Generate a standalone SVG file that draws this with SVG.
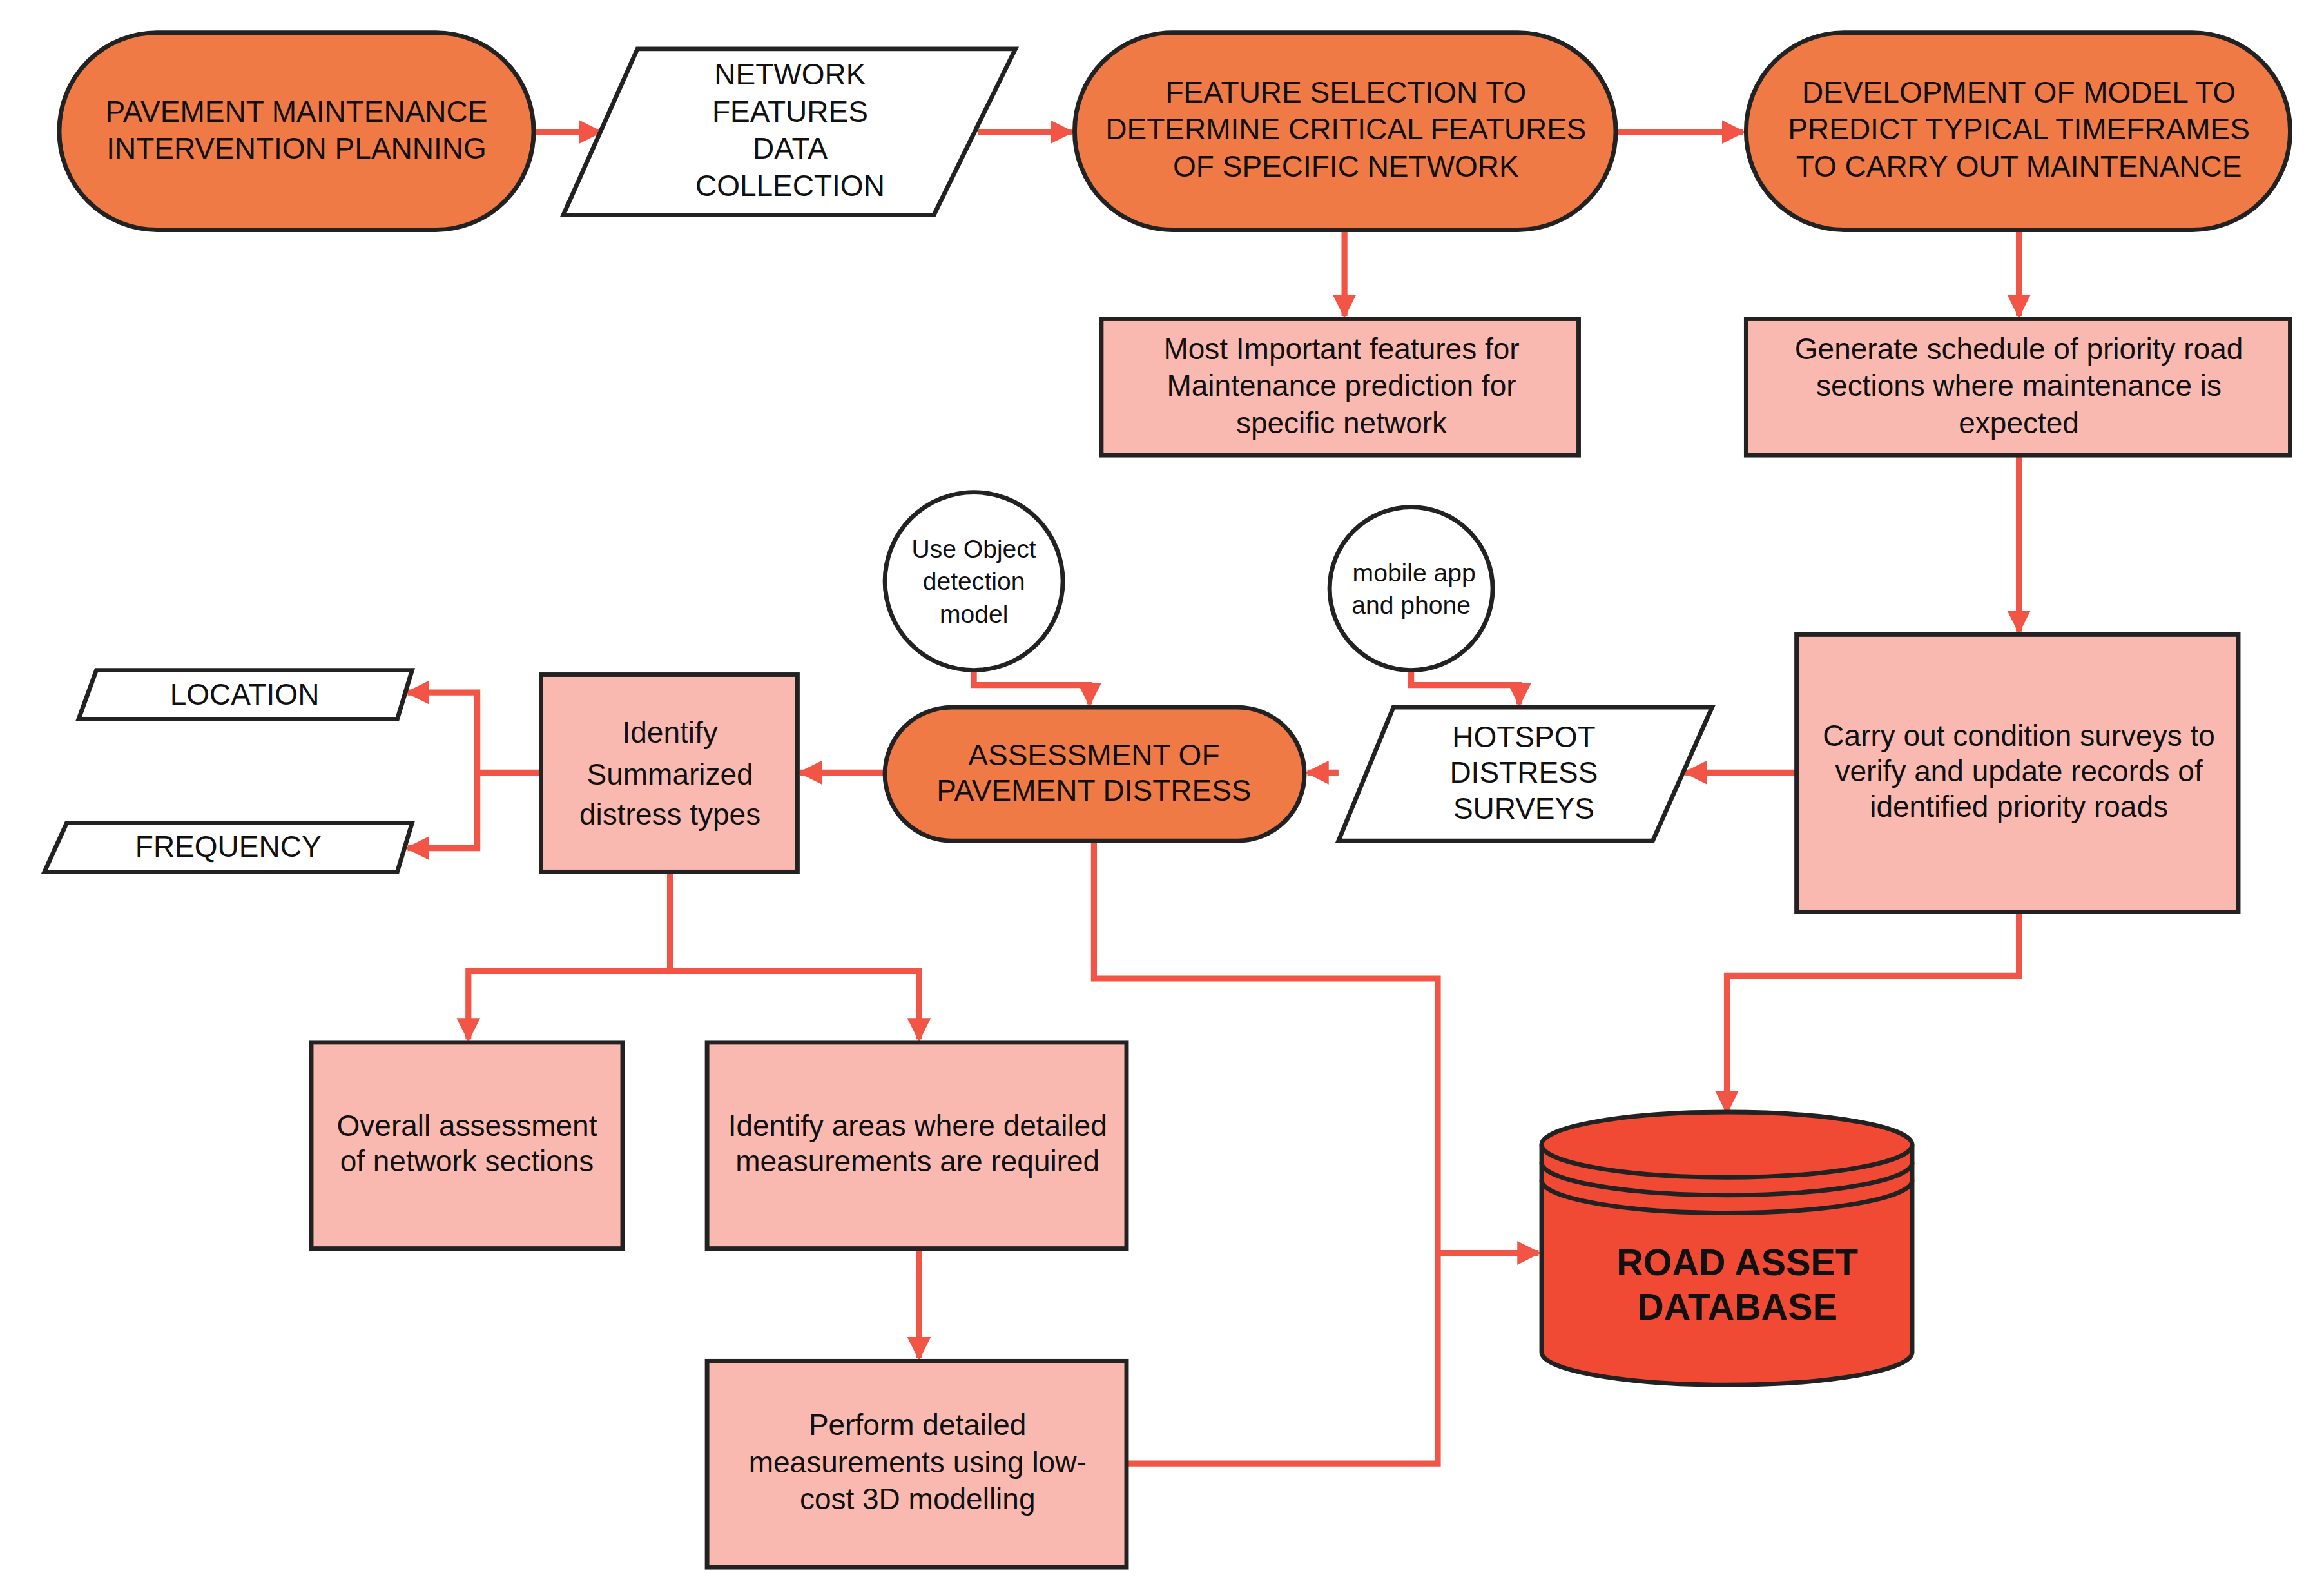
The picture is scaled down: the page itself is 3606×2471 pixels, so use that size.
<svg xmlns="http://www.w3.org/2000/svg" width="3606" height="2471" viewBox="0 0 3606 2471">
<style>
.o{fill:#F07A45;stroke:#222;stroke-width:3}
.w{fill:#fff;stroke:#222;stroke-width:3}
.p{fill:#F9B9B1;stroke:#222;stroke-width:3}
.c{fill:none;stroke:#F25545;stroke-width:4}
text{font-family:"Liberation Sans",Arial,sans-serif;font-size:20px;fill:#111;text-anchor:middle}
.s{font-size:17px}
.b{font-weight:bold;font-size:25px}
</style>
<defs><marker id="a" viewBox="0 0 10 10" refX="9" refY="5" markerWidth="4" markerHeight="4" orient="auto"><path d="M0,0L10,5L0,10z" fill="#F25545"/></marker></defs>
<rect width="3606" height="2471" fill="#fff"/>
<g transform="scale(2.3)">
<g id="connectors" marker-end="url(#a)">
<path class="c" d="M360,89H405"/>
<path class="c" d="M660,89H723"/>
<path class="c" d="M1090,89H1176"/>
<path class="c" d="M907,155V213"/>
<path class="c" d="M1362,155V213"/>
<path class="c" d="M1362,307V426"/>
<path class="c" d="M1212,521H1137"/>
<path class="c" d="M903,521H882"/>
<path class="c" d="M597,521H540"/>
<path class="c" d="M365,521H322V467H275"/>
<path class="c" d="M322,521V572H275"/>
<path class="c" d="M452,588V655H316V701"/>
<path class="c" d="M452,655H620V701"/>
<path class="c" d="M620,842V916"/>
<path class="c" d="M657,452V462H735V475"/>
<path class="c" d="M952,452V462H1025V475"/>
<path class="c" d="M738,567V660H970V845H1038"/>
<path class="c" d="M760,987H970V845" marker-end="none"/>
<path class="c" d="M1362,615V658H1165V750"/>
</g>
<g id="n1"><rect class="o" x="40" y="22" width="320" height="133" rx="66"/><text x="200" y="82">PAVEMENT MAINTENANCE</text><text x="200" y="107">INTERVENTION PLANNING</text></g>
<g id="n2"><path class="w" d="M430,33H685L630,145H380Z"/><text x="533" y="57">NETWORK</text><text x="533" y="82">FEATURES</text><text x="533" y="107">DATA</text><text x="533" y="132">COLLECTION</text></g>
<g id="n3"><rect class="o" x="725" y="22" width="365" height="133" rx="66"/><text x="908" y="69">FEATURE SELECTION TO</text><text x="908" y="94">DETERMINE CRITICAL FEATURES</text><text x="908" y="119">OF SPECIFIC NETWORK</text></g>
<g id="n4"><rect class="o" x="1178" y="22" width="367" height="133" rx="66"/><text x="1362" y="69">DEVELOPMENT OF MODEL TO</text><text x="1362" y="94">PREDICT TYPICAL TIMEFRAMES</text><text x="1362" y="119">TO CARRY OUT  MAINTENANCE</text></g>
<g id="n5"><rect class="p" x="743" y="215" width="322" height="92"/><text x="905" y="242">Most Important features for</text><text x="905" y="267">Maintenance prediction for</text><text x="905" y="292">specific network</text></g>
<g id="n6"><rect class="p" x="1178" y="215" width="367" height="92"/><text x="1362" y="242">Generate schedule of priority road</text><text x="1362" y="267">sections where maintenance is</text><text x="1362" y="292">expected</text></g>
<g id="n7"><circle class="w" cx="657" cy="392" r="60"/><text class="s" x="657" y="376">Use Object</text><text class="s" x="657" y="398">detection</text><text class="s" x="657" y="420">model</text></g>
<g id="n8"><circle class="w" cx="952" cy="397" r="55"/><text class="s" x="954" y="392">mobile app</text><text class="s" x="952" y="414">and phone</text></g>
<g id="n9"><rect class="o" x="597" y="477" width="283" height="90" rx="45"/><text x="738" y="516">ASSESSMENT OF</text><text x="738" y="540">PAVEMENT DISTRESS</text></g>
<g id="n10"><path class="w" d="M940,477H1155L1115,567H903Z"/><text x="1028" y="504">HOTSPOT</text><text x="1028" y="528">DISTRESS</text><text x="1028" y="552">SURVEYS</text></g>
<g id="n11"><rect class="p" x="1212" y="428" width="298" height="187"/><text x="1362" y="503">Carry out condition surveys to</text><text x="1362" y="527">verify and update records of</text><text x="1362" y="551">identified priority roads</text></g>
<g id="n12"><rect class="p" x="365" y="455" width="173" height="133"/><text x="452" y="501">Identify</text><text x="452" y="529">Summarized</text><text x="452" y="556">distress types</text></g>
<g id="n13"><path class="w" d="M65,452H278L268,485H53Z"/><text x="165" y="475">LOCATION</text></g>
<g id="n14"><path class="w" d="M45,555H278L268,588H30Z"/><text x="154" y="578">FREQUENCY</text></g>
<g id="n15"><rect class="p" x="210" y="703" width="210" height="139"/><text x="315" y="766">Overall assessment</text><text x="315" y="790">of network sections</text></g>
<g id="n16"><rect class="p" x="477" y="703" width="283" height="139"/><text x="619" y="766">Identify areas where detailed</text><text x="619" y="790">measurements are required</text></g>
<g id="n17"><rect class="p" x="477" y="918" width="283" height="139"/><text x="619" y="968">Perform detailed</text><text x="619" y="993">measurements using low-</text><text x="619" y="1018">cost 3D modelling</text></g>
<g id="n18"><path d="M1040,772V912A125,22 0 0 0 1290,912V772" fill="#F04A35" stroke="#222" stroke-width="3"/><ellipse cx="1165" cy="772" rx="125" ry="22" fill="#F04A35" stroke="#222" stroke-width="3"/><path d="M1040,784A125,22 0 0 0 1290,784M1040,796A125,22 0 0 0 1290,796" fill="none" stroke="#222" stroke-width="3"/><text class="b" x="1172" y="860">ROAD ASSET</text><text class="b" x="1172" y="890">DATABASE</text></g>
</g>
</svg>
